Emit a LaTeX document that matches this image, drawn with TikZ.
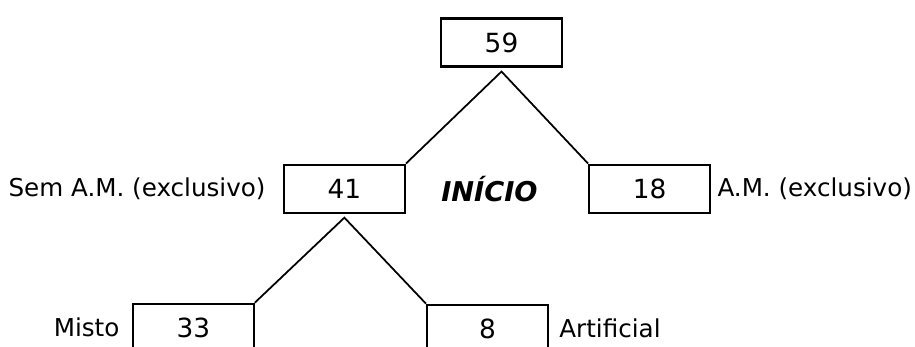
\documentclass[tikz,border=0pt]{standalone}
\usepackage{fontspec}
\setmainfont{DejaVu Sans}
\usepackage{tikz}
\usetikzlibrary{positioning,calc}
\tikzstyle{block} = [draw, rectangle, line width=1.2pt, minimum height=0.96cm,
    minimum width=2.42cm, text=black, align=center, font=\fontsize{15}{18}\selectfont]
\tikzstyle{lbl} = [inner sep=0pt, text=black, font=\fontsize{14}{17}\selectfont]
\tikzstyle{branch} = [draw, line width=1pt]

\begin{document}
\begin{tikzpicture}
    \useasboundingbox (0,0) rectangle (18.3,-6.94);
    \node [block] (total) at (10.03,-0.85) {59};
    \coordinate [below=0.08cm of total] (total_apex);

    \node [block, below left=1.92cm and 0.68cm of total] (sem) {41};
    \node [block, below right=1.92cm and 0.5cm of total] (com) {18};
    \draw [branch] (sem.north east) -- (total_apex) -- (com.north west);

    \node [lbl, left=0.34cm of sem] {Sem A.M. (exclusivo)};
    \node [lbl, right=0.12cm of com] {A.M. (exclusivo)};
    \node [lbl, right=0.7cm of sem, font=\fontsize{15.5}{18}\selectfont\bfseries\itshape] (inicio) {INÍCIO};

    \coordinate [below=0.08cm of sem] (sem_apex);
    \node [block, below left=1.78cm and 0.56cm of sem] (misto) {33};
    \node [block, below right=1.8cm and 0.4cm of sem] (artif) {8};
    \draw [branch] (misto.north east) -- (sem_apex) -- (artif.north west);

    \node [lbl, left=0.24cm of misto] {Misto};
    \node [lbl, right=0.2cm of artif] {Artificial};
\end{tikzpicture}
\end{document}
